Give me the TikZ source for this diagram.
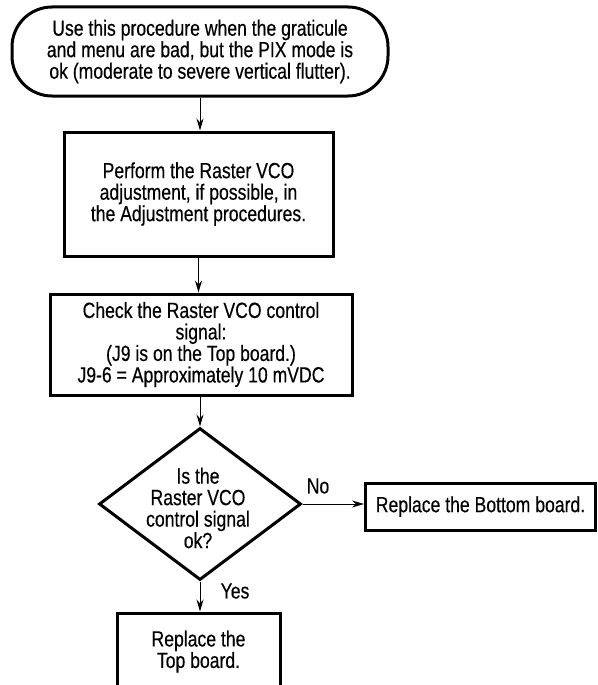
\documentclass[tikz,border=0pt]{standalone}
\usepackage{fontspec}
\setmainfont[FakeStretch=0.8,FakeBold=0.4]{Liberation Sans}
\usetikzlibrary{shapes.geometric,arrows.meta}
\begin{document}
\begin{tikzpicture}[x=1pt,y=-1pt,
  every node/.style={font=\fontsize{22}{21.5}\selectfont, align=center, inner sep=0pt},
  boxed/.style={draw, line width=3pt, rectangle},
  flow/.style={line width=1pt, -{Stealth[length=12pt,width=7pt]}},
  lbl/.style={font=\fontsize{22}{21.5}\selectfont}]
\useasboundingbox (0,0) rectangle (597,685);
\node[boxed, rounded corners=40pt, minimum width=376pt, minimum height=89pt] (start) at (200,51.5)
  {Use this procedure when the graticule\\and menu are bad, but the PIX mode is\\ok (moderate to severe vertical flutter).};
\node[boxed, minimum width=269pt, minimum height=124pt] (adj) at (198.5,194)
  {Perform the Raster VCO\\adjustment, if possible, in\\the Adjustment procedures.};
\node[boxed, minimum width=302pt, minimum height=101pt] (check) at (201,344.5)
  {Check the Raster VCO control\\signal:\\(J9 is on the Top board.)\\J9-6 = Approximately 10 mVDC};
\node[draw, diamond, line width=3pt, minimum width=202pt, minimum height=152pt] (dec) at (200,504) {};
\node (dectext) at (198,508) {Is the\\Raster VCO\\control signal\\ok?};
\node[boxed, minimum width=230pt, minimum height=47pt] (bottom) at (480.5,506.5) {Replace the Bottom board.};
\node[boxed, minimum width=163pt, minimum height=77pt] (top) at (198.5,651.5) {Replace the\\Top board.};
\draw[flow] (start.south) -- (start.south |- adj.north);
\draw[flow] (adj.south) -- (adj.south |- check.north);
\draw[flow] (check.south -| dec.north) -- (dec.north);
\draw[flow] (dec.east) -- (dec.east -| bottom.west);
\draw[flow] (dec.south) -- (dec.south |- top.north);
\node[lbl] (no) at (318,486) {No};
\node[lbl] (yes) at (235,591) {Yes};
\end{tikzpicture}
\end{document}
